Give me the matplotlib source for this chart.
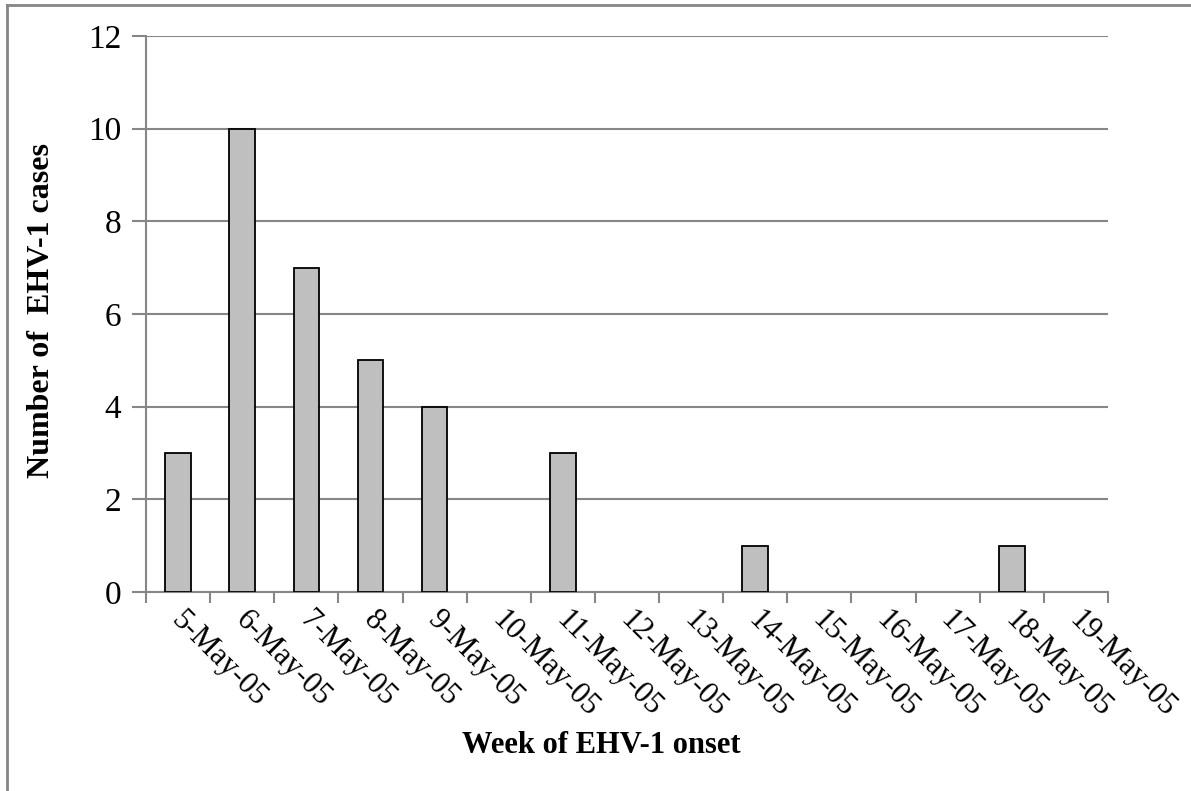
import matplotlib.pyplot as plt
from matplotlib.lines import Line2D
import numpy as np

plt.rcParams['font.family'] = ['Liberation Serif', 'DejaVu Serif']

# data
weeks = ['5-May-05', '6-May-05', '7-May-05', '8-May-05', '9-May-05', '10-May-05',
         '11-May-05', '12-May-05', '13-May-05', '14-May-05', '15-May-05',
         '16-May-05', '17-May-05', '18-May-05', '19-May-05']
cases = [3, 10, 7, 5, 4, 0, 3, 0, 0, 1, 0, 0, 0, 1, 0]
yticks = [0, 2, 4, 6, 8, 10, 12]

fig = plt.figure(figsize=(11.91, 7.91), dpi=100)
ax = fig.add_axes([0.1226, 0.2516, 0.8077, 0.7029])

grey = '#868686'
x = np.arange(len(weeks)) + 0.5
lw = [1.3 if c > 0 else 0 for c in cases]  # empty weeks draw nothing
ax.bar(x, cases, width=0.4, color='#bfbfbf', edgecolor='black', linewidth=lw, zorder=3)

ax.set_xlim(0, len(weeks))
ax.set_ylim(0, 12)
ax.set_yticks(yticks)
ax.set_yticklabels([str(v) for v in yticks], fontsize=24)
ax.yaxis.grid(True, color=grey, linewidth=1.5, zorder=0)

# labels sit a little right of the category centre, ticks are on the boundaries
ax.set_xticks(x + 0.12)
ax.set_xticklabels(weeks, fontsize=22, rotation=-45, ha='left', va='top',
                   rotation_mode='anchor')
ax.tick_params(axis='x', which='major', length=0, pad=10)
ax.set_xticks(np.arange(len(weeks) + 1), minor=True)
ax.tick_params(axis='x', which='minor', length=8, width=1.5, color=grey)
ax.tick_params(axis='y', length=10, width=1.5, color=grey, pad=8)

for s in ['top', 'right']:
    ax.spines[s].set_visible(False)
for s in ['left', 'bottom']:
    ax.spines[s].set_color(grey)
    ax.spines[s].set_linewidth(1.5)

fig.text(0.035, 0.608, 'Number of  EHV-1 cases', rotation=90, fontsize=23,
         fontweight='bold', ha='center', va='center')
fig.text(0.505, 0.058, 'Week of EHV-1 onset', fontsize=22, fontweight='bold',
         ha='center', va='center')

# outer frame
fig.add_artist(Line2D([0.006, 1.0], [0.9935, 0.9935], color=grey, linewidth=2,
                      transform=fig.transFigure))
fig.add_artist(Line2D([0.006, 0.006], [0.0, 0.9935], color=grey, linewidth=2,
                      transform=fig.transFigure))

fig.savefig('out.png', dpi=100)
